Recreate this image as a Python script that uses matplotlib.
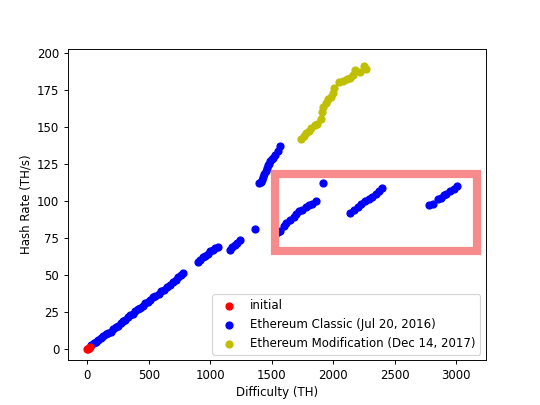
import matplotlib
matplotlib.use("Agg")
import matplotlib.pyplot as plt
from matplotlib.patches import Rectangle

init_d = [0, 5, 10, 15, 20]
init_h = [0.0, 0.4, 0.8, 1.0, 1.4]

etc_d = [30, 50, 70, 90, 110, 130, 150, 170, 190, 210, 230, 250, 270, 290, 310, 330, 350,
         370, 390, 410, 430, 450, 470, 490, 510, 530, 550, 580, 600, 620, 650, 670, 700,
         720, 740, 760, 780, 900, 920, 940, 960, 980, 1000, 1020, 1040, 1060, 1160, 1180,
         1200, 1220, 1240, 1360,
         1400, 1410, 1420, 1430, 1440, 1450, 1460, 1470, 1480, 1490, 1500, 1510, 1530, 1550, 1570,
         1530, 1550, 1570, 1600, 1620, 1650, 1680, 1700, 1720, 1750, 1780, 1800, 1830, 1860,
         1920,
         2140, 2170, 2200, 2230, 2260, 2290, 2320, 2350, 2370, 2400,
         2780, 2810, 2850, 2880, 2900, 2920, 2950, 2980, 3010]
etc_h = [3, 4, 5, 6.5, 7.5, 9, 10, 11, 12, 13.5, 15, 16, 17.5, 19, 20, 21.5, 23,
         24, 25.5, 27, 28, 29.5, 31, 32, 33.5, 35, 36, 37.5, 39, 40, 42, 43.5, 45.5,
         47, 48.5, 50, 51.5, 59, 60.5, 62, 63, 64.5, 66, 67, 68, 69, 67, 69,
         70.5, 72, 73.5, 81,
         112, 113, 114, 116, 118, 120, 122, 124, 125, 127, 128, 129, 131, 134, 137,
         77, 79, 80, 83, 85, 87, 89, 91, 93, 94, 96, 97, 98, 100,
         112,
         92, 94, 96, 98, 100, 101, 103, 105, 107, 109,
         97, 98, 101, 102, 104, 105, 107, 108, 110]

mod_d = [1740, 1760, 1780, 1800, 1820, 1850, 1870, 1900, 1910, 1920, 1940, 1960, 1980,
         2000, 2010, 2050, 2080, 2110, 2140, 2160, 2180, 2220, 2250, 2270]
mod_h = [142, 144, 146, 147, 149, 151, 152, 155, 160, 163, 166, 169, 170,
         173, 176, 180, 181, 182, 183, 185, 188, 187, 191, 189]

fig, ax = plt.subplots(figsize=(6.4, 4.8), dpi=84.375)
ax.scatter(init_d, init_h, c="red", label="initial", zorder=3)
ax.scatter(etc_d, etc_h, c="blue", label="Ethereum Classic (Jul 20, 2016)")
ax.scatter(mod_d, mod_h, c="#bfbf00", label="Ethereum Modification (Dec 14, 2017)")

# highlight box
ax.add_patch(Rectangle((1530, 66), 1640, 52, fill=False, edgecolor="#f78a8a",
                       linewidth=7, zorder=4))

ax.set_xlim(-162, 3244)
ax.set_ylim(-7.5, 202.7)
ax.set_xlabel("Difficulty (TH)")
ax.set_ylabel("Hash Rate (TH/s)")
ax.legend(loc="lower right")
fig.savefig("out.png")
